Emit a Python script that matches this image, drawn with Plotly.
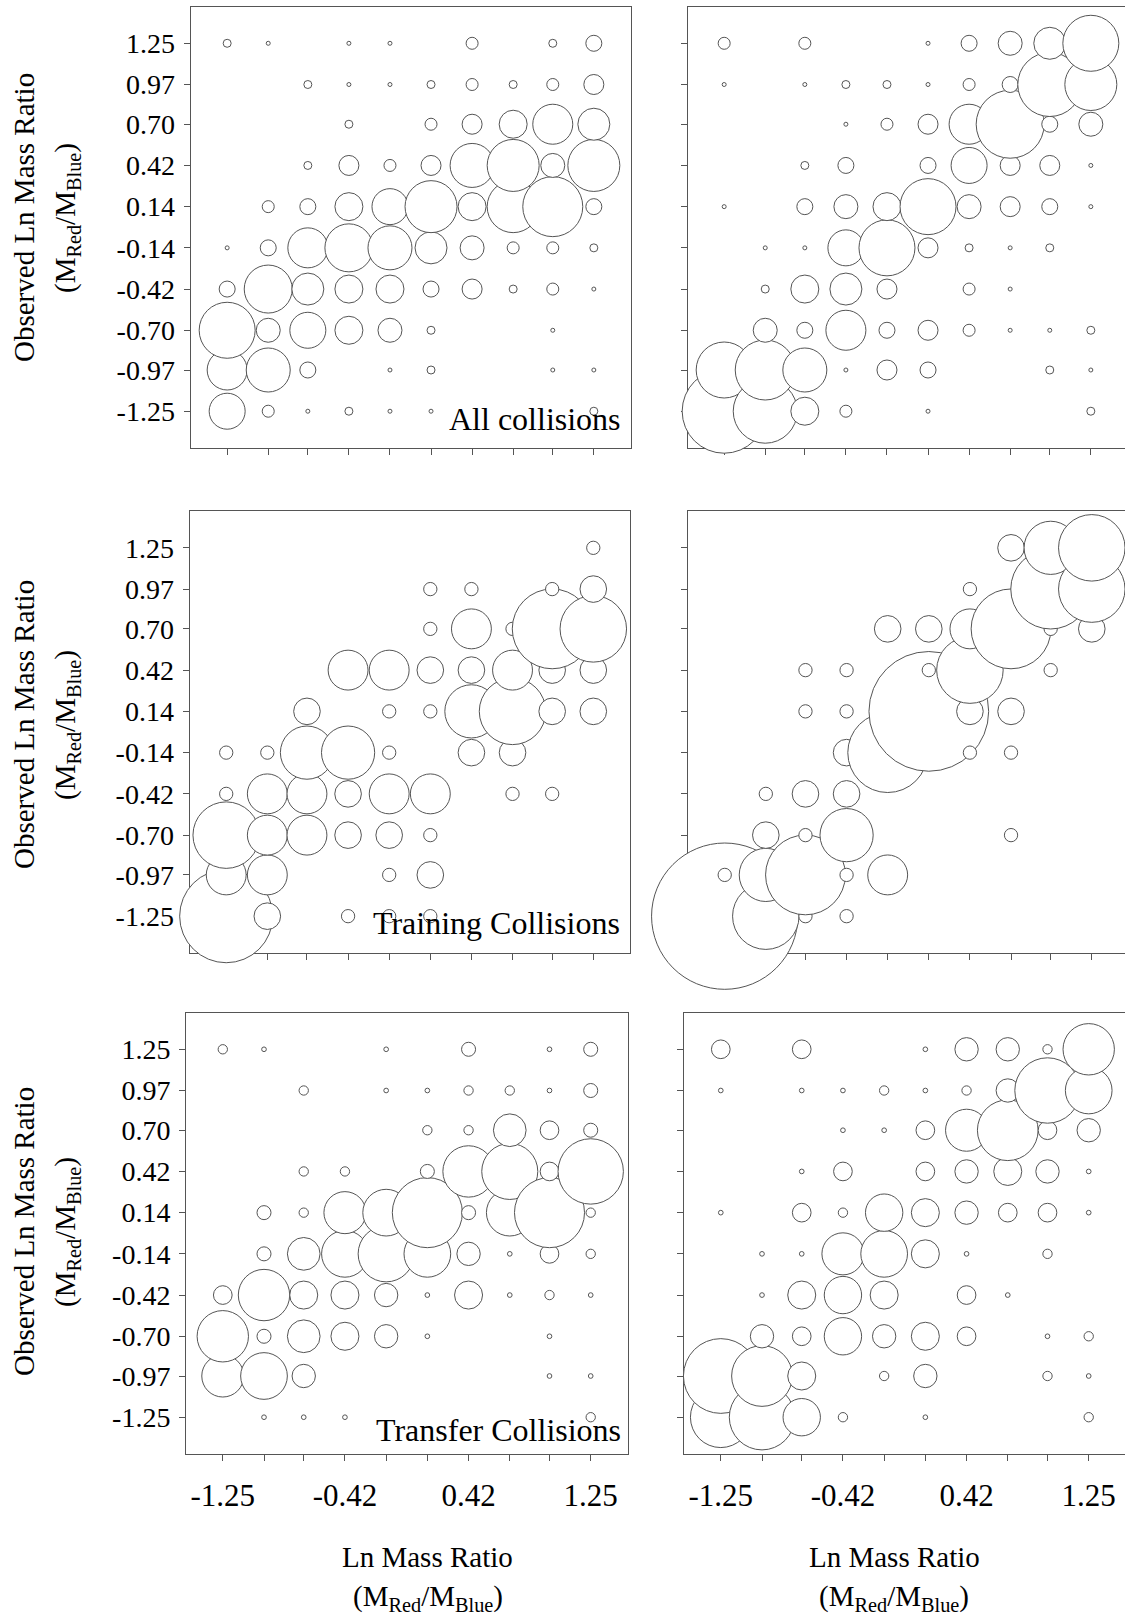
import plotly.graph_objects as go

# ---------------- data ----------------
CATS = [-1.25, -0.97, -0.70, -0.42, -0.14, 0.14, 0.42, 0.70, 0.97, 1.25]
Y_TICK_TEXT = ["-1.25", "-0.97", "-0.70", "-0.42", "-0.14", "0.14", "0.42", "0.70", "0.97", "1.25"]
X_LABELED_TICKS = [-1.25, -0.42, 0.42, 1.25]
X_LABELED_TEXT = ["-1.25", "-0.42", "0.42", "1.25"]
X_MINOR_TICKS = [-0.97, -0.70, -0.14, 0.14, 0.70, 0.97]

# counts; rows = observed ratio from 1.25 (top) down to -1.25, columns = CATS left to right
all_left = [
    [2, 1, 0, 1, 1, 0, 3, 0, 2, 4],
    [0, 0, 2, 1, 1, 2, 3, 2, 3, 5],
    [0, 0, 0, 2, 0, 3, 5, 7, 10, 8],
    [0, 0, 2, 5, 3, 5, 11, 13, 6, 13],
    [0, 3, 4, 7, 9, 13, 7, 13, 15, 4],
    [1, 4, 10, 12, 11, 8, 6, 3, 3, 2],
    [4, 12, 8, 7, 7, 4, 5, 2, 3, 1],
    [14, 6, 9, 7, 6, 2, 0, 0, 1, 0],
    [10, 11, 4, 0, 1, 2, 0, 0, 1, 1],
    [9, 3, 1, 2, 1, 1, 0, 0, 0, 2],
]
all_right = [
    [3, 0, 3, 0, 0, 1, 4, 6, 8, 14],
    [1, 0, 1, 2, 2, 1, 3, 4, 16, 13],
    [0, 0, 0, 1, 3, 5, 10, 17, 4, 6],
    [0, 0, 2, 4, 0, 4, 9, 5, 5, 1],
    [1, 0, 4, 6, 7, 14, 6, 5, 4, 1],
    [0, 1, 1, 9, 14, 5, 2, 1, 2, 0],
    [0, 2, 7, 8, 5, 0, 3, 1, 0, 0],
    [0, 6, 4, 10, 4, 5, 3, 1, 1, 2],
    [14, 15, 11, 1, 5, 4, 0, 0, 2, 1],
    [21, 16, 7, 3, 0, 1, 0, 0, 0, 2],
]
training_left = [
    [0, 0, 0, 0, 0, 0, 0, 0, 0, 1],
    [0, 0, 0, 0, 0, 1, 1, 0, 1, 2],
    [0, 0, 0, 0, 0, 1, 3, 1, 6, 5],
    [0, 0, 0, 3, 3, 2, 2, 3, 2, 2],
    [0, 0, 2, 0, 1, 1, 4, 5, 2, 2],
    [1, 1, 4, 4, 1, 0, 2, 2, 0, 0],
    [1, 3, 3, 2, 3, 3, 0, 1, 1, 0],
    [5, 3, 3, 2, 2, 1, 0, 0, 0, 0],
    [3, 3, 0, 0, 1, 2, 0, 0, 0, 0],
    [7, 2, 0, 1, 1, 1, 0, 0, 0, 0],
]
training_right = [
    [0, 0, 0, 0, 0, 0, 0, 2, 4, 5],
    [0, 0, 0, 0, 0, 0, 1, 0, 6, 5],
    [0, 0, 0, 0, 2, 2, 3, 6, 1, 2],
    [0, 0, 1, 1, 0, 1, 5, 0, 1, 0],
    [0, 0, 1, 1, 0, 9, 2, 2, 0, 0],
    [0, 0, 0, 2, 6, 0, 1, 1, 0, 0],
    [0, 1, 2, 2, 0, 0, 0, 0, 0, 0],
    [0, 2, 1, 4, 0, 0, 0, 1, 0, 0],
    [1, 4, 6, 1, 3, 0, 0, 0, 0, 0],
    [11, 5, 1, 1, 0, 0, 0, 0, 0, 0],
]
transfer_left = [
    [2, 1, 0, 0, 1, 0, 3, 0, 1, 3],
    [0, 0, 2, 0, 1, 1, 2, 2, 1, 3],
    [0, 0, 0, 0, 0, 2, 2, 7, 4, 3],
    [0, 0, 2, 2, 0, 3, 11, 12, 4, 14],
    [0, 3, 2, 9, 10, 15, 3, 10, 15, 2],
    [0, 3, 7, 10, 12, 10, 5, 1, 4, 2],
    [4, 11, 6, 6, 5, 1, 6, 1, 2, 1],
    [11, 3, 7, 6, 5, 1, 0, 0, 1, 0],
    [9, 10, 5, 0, 0, 0, 0, 0, 1, 1],
    [0, 1, 1, 1, 0, 0, 0, 0, 0, 2],
]
transfer_right = [
    [4, 0, 4, 0, 0, 1, 5, 5, 2, 11],
    [1, 0, 1, 1, 2, 1, 2, 5, 14, 10],
    [0, 0, 0, 1, 1, 4, 9, 13, 4, 5],
    [0, 0, 1, 4, 0, 4, 5, 6, 5, 1],
    [1, 0, 4, 2, 8, 6, 5, 4, 4, 1],
    [0, 1, 1, 9, 10, 6, 1, 0, 2, 0],
    [0, 1, 6, 8, 6, 0, 4, 1, 0, 0],
    [0, 5, 4, 8, 5, 6, 4, 0, 1, 2],
    [16, 13, 6, 0, 2, 5, 0, 0, 2, 1],
    [13, 14, 8, 2, 0, 1, 0, 0, 0, 2],
]
PANEL_DATA = [all_left, all_right, training_left, training_right, transfer_left, transfer_right]
PANEL_LABELS = ["All collisions", "", "Training Collisions", "", "Transfer Collisions", ""]
Y_TITLE_1 = "Observed Ln Mass Ratio"
Y_TITLE_2 = "(M<sub>Red</sub>/M<sub>Blue</sub>)"
X_TITLE_1 = "Ln Mass Ratio"
X_TITLE_2 = "(M<sub>Red</sub>/M<sub>Blue</sub>)"

# ---------------- style / layout ----------------
W, H = 1125, 1619
FONT = "Liberation Serif, Times New Roman, serif"
LINE = "#555555"
ROW_PX = [(6.5, 448.0), (511.0, 953.0), (1012.5, 1454.0)]
COL_PX = [
    [(190.5, 630.5), (687.5, 1125.0)],
    [(189.5, 630.0), (688.0, 1125.0)],
    [(186.0, 627.5), (684.0, 1125.0)],
]
D_PER_COUNT = [4.0, 4.0, 13.3, 13.3, 4.67, 4.67]
LABEL_POS = [(623, 419.5), None, (622, 922.5), None, (623, 1429.5), None]
YTITLE_Y = [218, 725, 1232]
XTITLE_X = [428, 894]


def px_x(p):
    return p / W


def px_y(p):
    return 1 - p / H


fig = go.Figure()
layout = dict(
    width=W, height=H, margin=dict(l=0, r=0, t=0, b=0),
    paper_bgcolor="white", plot_bgcolor="white", showlegend=False,
    font=dict(family=FONT, color="black"),
)
annotations = []

for i, counts in enumerate(PANEL_DATA):
    r, c = divmod(i, 2)
    sfx = "" if i == 0 else str(i + 1)
    xs, ys, ss = [], [], []
    for ci, xv in enumerate(CATS):
        for ri in range(9, -1, -1):
            n = counts[ri][ci]
            if n > 0:
                xs.append(xv)
                ys.append(CATS[9 - ri])
                ss.append(n)
    fig.add_trace(go.Scatter(
        x=xs, y=ys, mode="markers", xaxis="x" + sfx, yaxis="y" + sfx,
        marker=dict(size=ss, sizemode="diameter", sizeref=1.0 / D_PER_COUNT[i], sizemin=0,
                    color="white", opacity=1, line=dict(color=LINE, width=1)),
        cliponaxis=False, hoverinfo="skip", showlegend=False,
    ))

    top, bot = ROW_PX[r]
    left_l, left_r = COL_PX[r][0]
    ppu = (left_r - left_l) / 3.0
    l, rr = COL_PX[r][c]
    xmax = 1.5 if c == 0 else -1.5 + (rr - l) / ppu

    layout["xaxis" + sfx] = dict(
        domain=[px_x(l), px_x(rr)], range=[-1.5, xmax], autorange=False,
        anchor="y" + sfx, showline=True, linecolor=LINE, linewidth=1, mirror=True,
        ticks="outside", ticklen=6, tickwidth=1, tickcolor=LINE,
        tickmode="array", tickvals=X_LABELED_TICKS, ticktext=X_LABELED_TEXT,
        minor=dict(tickmode="array", tickvals=X_MINOR_TICKS, ticks="outside",
                   ticklen=6, tickwidth=1, tickcolor=LINE, showgrid=False),
        showticklabels=(r == 2), tickfont=dict(family=FONT, size=31, color="black"),
        ticklabelstandoff=8,
        showgrid=False, zeroline=False, layer="below traces", fixedrange=True,
    )
    layout["yaxis" + sfx] = dict(
        domain=[px_y(bot), px_y(top)], range=[-1.5, 1.5], autorange=False,
        anchor="x" + sfx, showline=True, linecolor=LINE, linewidth=1, mirror=(c == 0),
        ticks="outside", ticklen=6, tickwidth=1, tickcolor=LINE,
        tickmode="array", tickvals=CATS, ticktext=Y_TICK_TEXT,
        showticklabels=(c == 0), tickfont=dict(family=FONT, size=28, color="black"),
        ticklabelstandoff=3,
        showgrid=False, zeroline=False, layer="below traces", fixedrange=True,
    )

    if PANEL_LABELS[i]:
        lx, ly = LABEL_POS[i]
        annotations.append(dict(
            text=PANEL_LABELS[i], xref="paper", yref="paper",
            x=px_x(lx), y=px_y(ly), xanchor="right", yanchor="middle",
            showarrow=False, font=dict(family=FONT, size=32, color="black"),
        ))

for r in range(3):
    annotations.append(dict(
        text=Y_TITLE_1, xref="paper", yref="paper", x=px_x(24), y=px_y(YTITLE_Y[r]),
        xanchor="center", yanchor="middle", textangle=-90, showarrow=False,
        font=dict(family=FONT, size=29, color="black"),
    ))
    annotations.append(dict(
        text=Y_TITLE_2, xref="paper", yref="paper", x=px_x(67), y=px_y(YTITLE_Y[r]),
        xanchor="center", yanchor="middle", textangle=-90, showarrow=False,
        font=dict(family=FONT, size=29, color="black"),
    ))

for c in range(2):
    annotations.append(dict(
        text=X_TITLE_1, xref="paper", yref="paper", x=px_x(XTITLE_X[c]), y=px_y(1557),
        xanchor="center", yanchor="middle", showarrow=False,
        font=dict(family=FONT, size=29, color="black"),
    ))
    annotations.append(dict(
        text=X_TITLE_2, xref="paper", yref="paper", x=px_x(XTITLE_X[c]), y=px_y(1598),
        xanchor="center", yanchor="middle", showarrow=False,
        font=dict(family=FONT, size=29, color="black"),
    ))

layout["annotations"] = annotations
fig.update_layout(**layout)
fig.write_html("out.html")
